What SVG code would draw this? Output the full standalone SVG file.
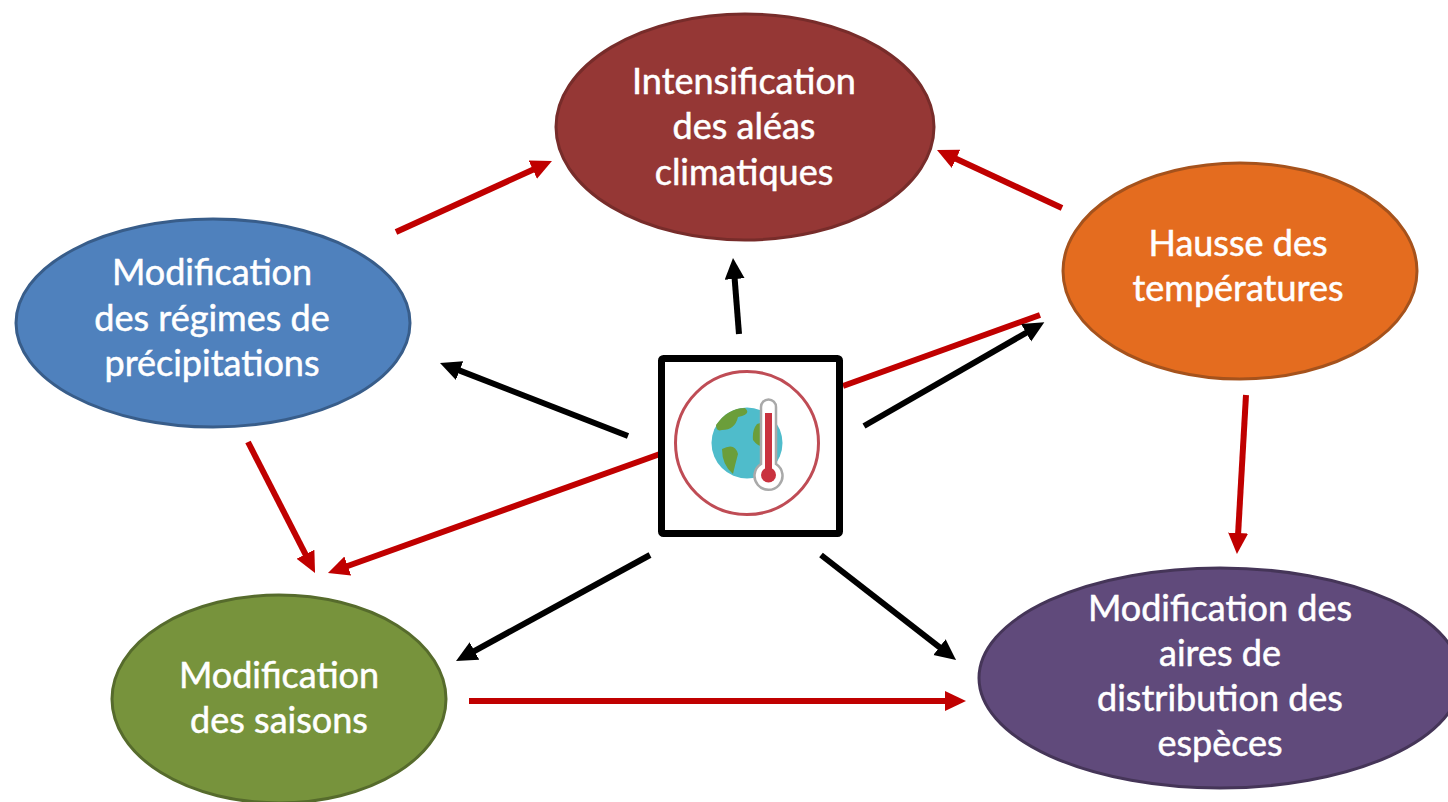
<svg xmlns="http://www.w3.org/2000/svg" width="1448" height="802" viewBox="0 0 1448 802">
<style>
text{font-family:Lato,"Open Sans","Liberation Sans",sans-serif;font-size:36px;fill:#fff;text-anchor:middle;stroke:#fff;stroke-width:.5}
.r{stroke:#c00000;stroke-width:6;fill:none}
.k{stroke:#000;stroke-width:6;fill:none}
ellipse{stroke-width:3}
</style>
<defs>
<marker id="ar" markerUnits="userSpaceOnUse" markerWidth="24" markerHeight="22" refX="6" refY="10" orient="auto"><path d="M0 0L21 10L0 20z" fill="#c00000"/></marker>
<marker id="ak" markerUnits="userSpaceOnUse" markerWidth="24" markerHeight="22" refX="6" refY="10" orient="auto"><path d="M0 0L21 10L0 20z" fill="#000"/></marker>
</defs>
<rect width="1448" height="802" fill="#fff"/>
<g id="connectors">
<path class="r" marker-end="url(#ar)" d="M396 232L538.300 167.200"/>
<path class="r" marker-end="url(#ar)" d="M1062 208L950.600 156.300"/>
<path class="r" d="M1040 315L843 386"/>
<path class="r" marker-end="url(#ar)" d="M1246 395L1237.800 539"/>
<path class="r" marker-end="url(#ar)" d="M248 442L308.200 559.600"/>
<path class="r" marker-end="url(#ar)" d="M660 454L342.100 568"/>
<path class="r" marker-end="url(#ar)" d="M469 701L951 701"/>
<path class="k" marker-end="url(#ak)" d="M739 334L734.200 273"/>
<path class="k" marker-end="url(#ak)" d="M628 436L454 368.400"/>
<path class="k" marker-end="url(#ak)" d="M864 426L1031.300 329.800"/>
<path class="k" marker-end="url(#ak)" d="M650 555L469.200 653.800"/>
<path class="k" marker-end="url(#ak)" d="M821 555L944.200 650.800"/>
</g>
<g id="n-alea"><ellipse cx="745" cy="127" rx="189" ry="113" fill="#953735" stroke="#772c2a"/><text x="744" y="94">Intensification</text><text x="744" y="139">des aléas</text><text x="744" y="185">climatiques</text></g>
<g id="n-temp"><ellipse cx="1240" cy="271" rx="177" ry="108" fill="#e46c1f" stroke="#a5521c"/><text x="1238" y="256">Hausse des</text><text x="1238" y="301">températures</text></g>
<g id="n-prec"><ellipse cx="213" cy="323" rx="197" ry="104" fill="#4f81bd" stroke="#385d8a"/><text x="212" y="285">Modification</text><text x="212" y="331">des régimes de</text><text x="212" y="376">précipitations</text></g>
<g id="n-sais"><ellipse cx="279" cy="699" rx="167" ry="104" fill="#77933c" stroke="#566b2c"/><text x="279" y="688">Modification</text><text x="279" y="733">des saisons</text></g>
<g id="n-dist"><ellipse cx="1220" cy="678" rx="241" ry="110" fill="#604a7b" stroke="#453558"/><text x="1220" y="621">Modification des</text><text x="1220" y="666">aires de</text><text x="1220" y="711">distribution des</text><text x="1220" y="756">espèces</text></g>
<g id="center">
<rect x="661.500" y="358.500" width="178" height="175" rx="2" fill="#fff" stroke="#000" stroke-width="7"/>
<circle cx="747" cy="443" r="71.500" fill="#fff" stroke="#bf4c55" stroke-width="3"/>
<circle cx="747" cy="443" r="35.500" fill="#4fbccb"/>
<path d="M716 425Q728 408 745 408Q752 414 738 417Q735 430 722 430Q716 432 716 425zM757 424Q768 420 772 428L772 446Q760 450 753 440Q752 430 757 424zM722 449Q735 442 738 454Q735 465 733 474Q722 465 722 449z" fill="#6b9e3a"/>
<path d="M761 407a7.500 7.500 0 0 1 15 0V464a14 14 0 1 1-15 0z" fill="#fff" stroke="#a9a9a9" stroke-width="2.500"/>
<rect x="765" y="413" width="7" height="58" fill="#c9323f"/>
<circle cx="768.500" cy="475" r="7.500" fill="#c9323f"/>
</g>
</svg>
